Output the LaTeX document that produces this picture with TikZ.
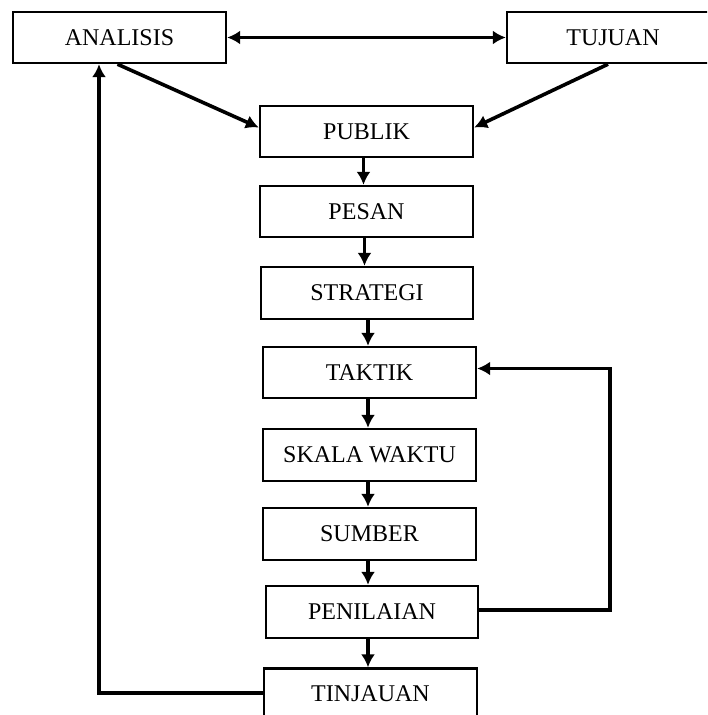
\documentclass[tikz,border=0pt]{standalone}
\usepackage{fontspec}
\setmainfont{Liberation Serif}
\usetikzlibrary{arrows.meta,calc}
\begin{document}
\begin{tikzpicture}[x=1pt,y=-1pt,
  box/.style={draw,line width=2.4pt,minimum width=213pt,minimum height=51pt,inner sep=0pt,font=\fontsize{24}{28}\selectfont},
  arr/.style={line width=3.6pt,-{Latex[length=13pt,width=14pt]}},
  darr/.style={line width=3.6pt,{Latex[length=13pt,width=14pt]}-{Latex[length=13pt,width=14pt]}}]
\useasboundingbox (0,0) rectangle (707,715);
\begin{scope}
\clip (0,0) rectangle (707,715);
\node[box] (analisis) at (119.5,37.5) {ANALISIS};
\node[box,minimum width=212pt] (tujuan) at (613,37.5) {TUJUAN};
\node[box] (publik) at (366.5,131.5) {PUBLIK};
\node[box] (pesan) at (366.5,211.5) {PESAN};
\node[box,minimum width=212pt,minimum height=52pt] (strategi) at (367,293) {STRATEGI};
\node[box] (taktik) at (369.5,372.5) {TAKTIK};
\node[box,minimum height=52pt] (skala) at (369.5,455) {SKALA WAKTU};
\node[box,minimum height=52pt] (sumber) at (369.5,534) {SUMBER};
\node[box,minimum width=212pt,minimum height=52pt] (penilaian) at (372,612) {PENILAIAN};
\node[box] (tinjauan) at (370.5,694) {TINJAUAN};
\coordinate (lx) at (99,0);
\draw[darr] (analisis.east) -- (tujuan.west);
\draw[arr] ([xshift=-2pt]analisis.south) -- ([yshift=4pt]publik.west);
\draw[arr] ([xshift=-5pt]tujuan.south) -- ([yshift=4pt]publik.east);
\draw[arr] ([xshift=-3pt]publik.south) -- ([xshift=-3pt]publik.south |- pesan.north);
\draw[arr] ([xshift=-2pt]pesan.south) -- ([xshift=-2pt]pesan.south |- strategi.north);
\draw[arr] ([xshift=1pt]strategi.south) -- ([xshift=1pt]strategi.south |- taktik.north);
\draw[arr] ([xshift=-1.5pt]taktik.south) -- ([xshift=-1.5pt]taktik.south |- skala.north);
\draw[arr] ([xshift=-1.5pt]skala.south) -- ([xshift=-1.5pt]skala.south |- sumber.north);
\draw[arr] ([xshift=-1.5pt]sumber.south) -- ([xshift=-1.5pt]sumber.south |- penilaian.north);
\draw[arr] ([xshift=-4pt]penilaian.south) -- ([xshift=-4pt]penilaian.south |- tinjauan.north);
\draw[arr] ([yshift=2pt]penilaian.east) -- ++(131,0) |- ([yshift=4pt]taktik.east);
\draw[arr] ([yshift=1pt]tinjauan.west) -| (lx |- analisis.south);
\end{scope}
\end{tikzpicture}
\end{document}
